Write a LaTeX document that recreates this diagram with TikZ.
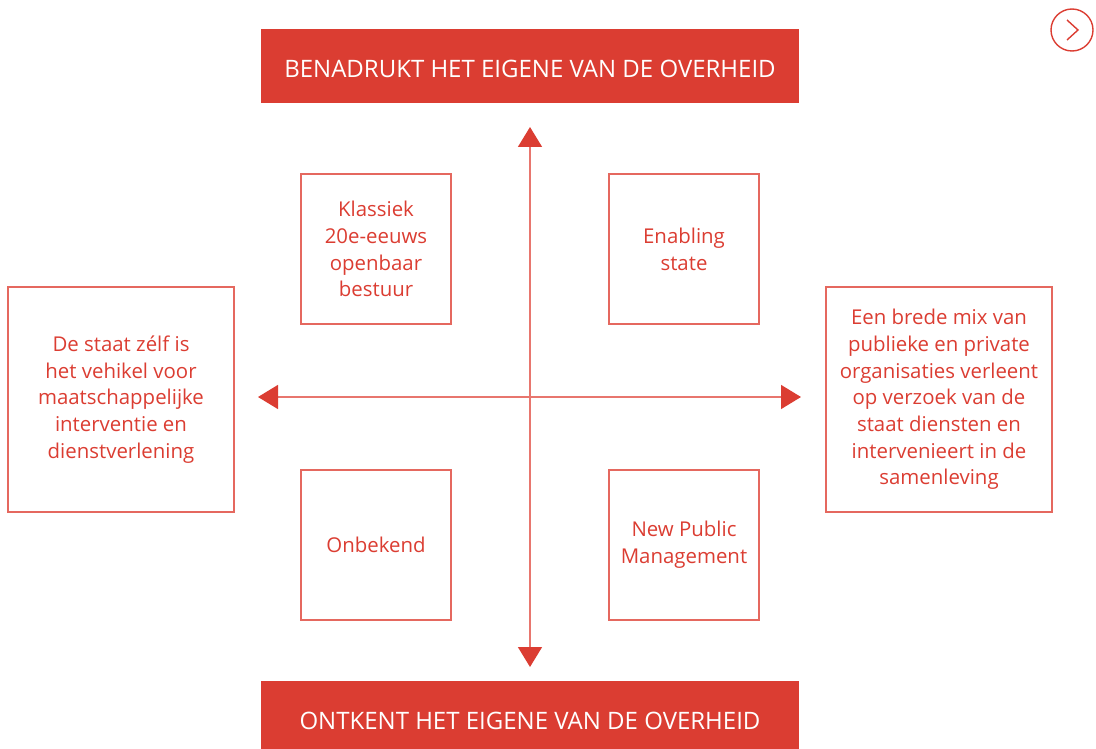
\documentclass[tikz,border=0pt]{standalone}
\usepackage{fontspec}
\setmainfont{Open Sans}
\usepackage{tikz}
\usetikzlibrary{arrows.meta}

\definecolor{overheidrood}{HTML}{DB3D32}
\definecolor{kaderrood}{HTML}{E5685F}
\definecolor{lijnrood}{HTML}{E8766E}

\tikzset{
  kop/.style={fill=overheidrood, text=white, minimum width=538pt, minimum height=74pt,
              text height=23pt, text depth=0pt, inner sep=0pt,
              font=\fontsize{24}{28}\selectfont},
  vak/.style={draw=kaderrood, line width=1.2pt, minimum width=150pt, minimum height=150pt,
              align=center, text=overheidrood, inner sep=0pt,
              font=\fontsize{20.4}{26.7}\selectfont},
  breedvak/.style={vak, minimum width=226pt, minimum height=225pt},
  as/.style={draw=lijnrood, line width=1.4pt,
             {Triangle[width=24pt,length=20pt,color=overheidrood]}-{Triangle[width=24pt,length=20pt,color=overheidrood]}}
}

\begin{document}
\begin{tikzpicture}[x=1pt,y=-1pt]

  \useasboundingbox (0,0) rectangle (1096,749);

  % koppen boven en onder
  \node [kop] (boven) at (530,66)  {BENADRUKT HET EIGENE VAN DE OVERHEID};
  \node [kop] (onder) at (530,718) {ONTKENT HET EIGENE VAN DE OVERHEID};

  % assen
  \coordinate (asboven) at (530,127);
  \coordinate (asonder) at (530,667);
  \coordinate (aslinks) at (258,397);
  \coordinate (asrechts) at (801,397);
  \draw [as] (asonder) -- (asboven);
  \draw [as] (aslinks) -- (asrechts);

  % kwadranten
  \node [vak] (klassiek) at (376,249) {Klassiek\\20e-eeuws\\openbaar\\bestuur};
  \node [vak] (enabling) at (684,249) {Enabling\\state};
  \node [vak] (onbekend) at (376,545) {Onbekend};
  \node [vak] (npm)      at (684,545) {New Public\\Management};

  % uitersten links en rechts
  \node [breedvak] (staat) at (121,399.5)
    {De staat zélf is\\het vehikel voor\\maatschappelijke\\interventie en\\dienstverlening};
  \node [breedvak] (mix) at (939,399.5)
    {Een brede mix van\\publieke en private\\organisaties verleent\\op verzoek van de\\staat diensten en\\intervenieert in de\\samenleving};

  % knop rechtsboven
  \node [draw=overheidrood, line width=1.4pt, circle, minimum size=42pt, inner sep=0pt] (volgende) at (1072,30) {};
  \draw [overheidrood, line width=1.4pt] ([shift={(-5,-10)}]volgende.center)
        -- ([shift={(6,0)}]volgende.center) -- ([shift={(-5,10)}]volgende.center);

\end{tikzpicture}
\end{document}
